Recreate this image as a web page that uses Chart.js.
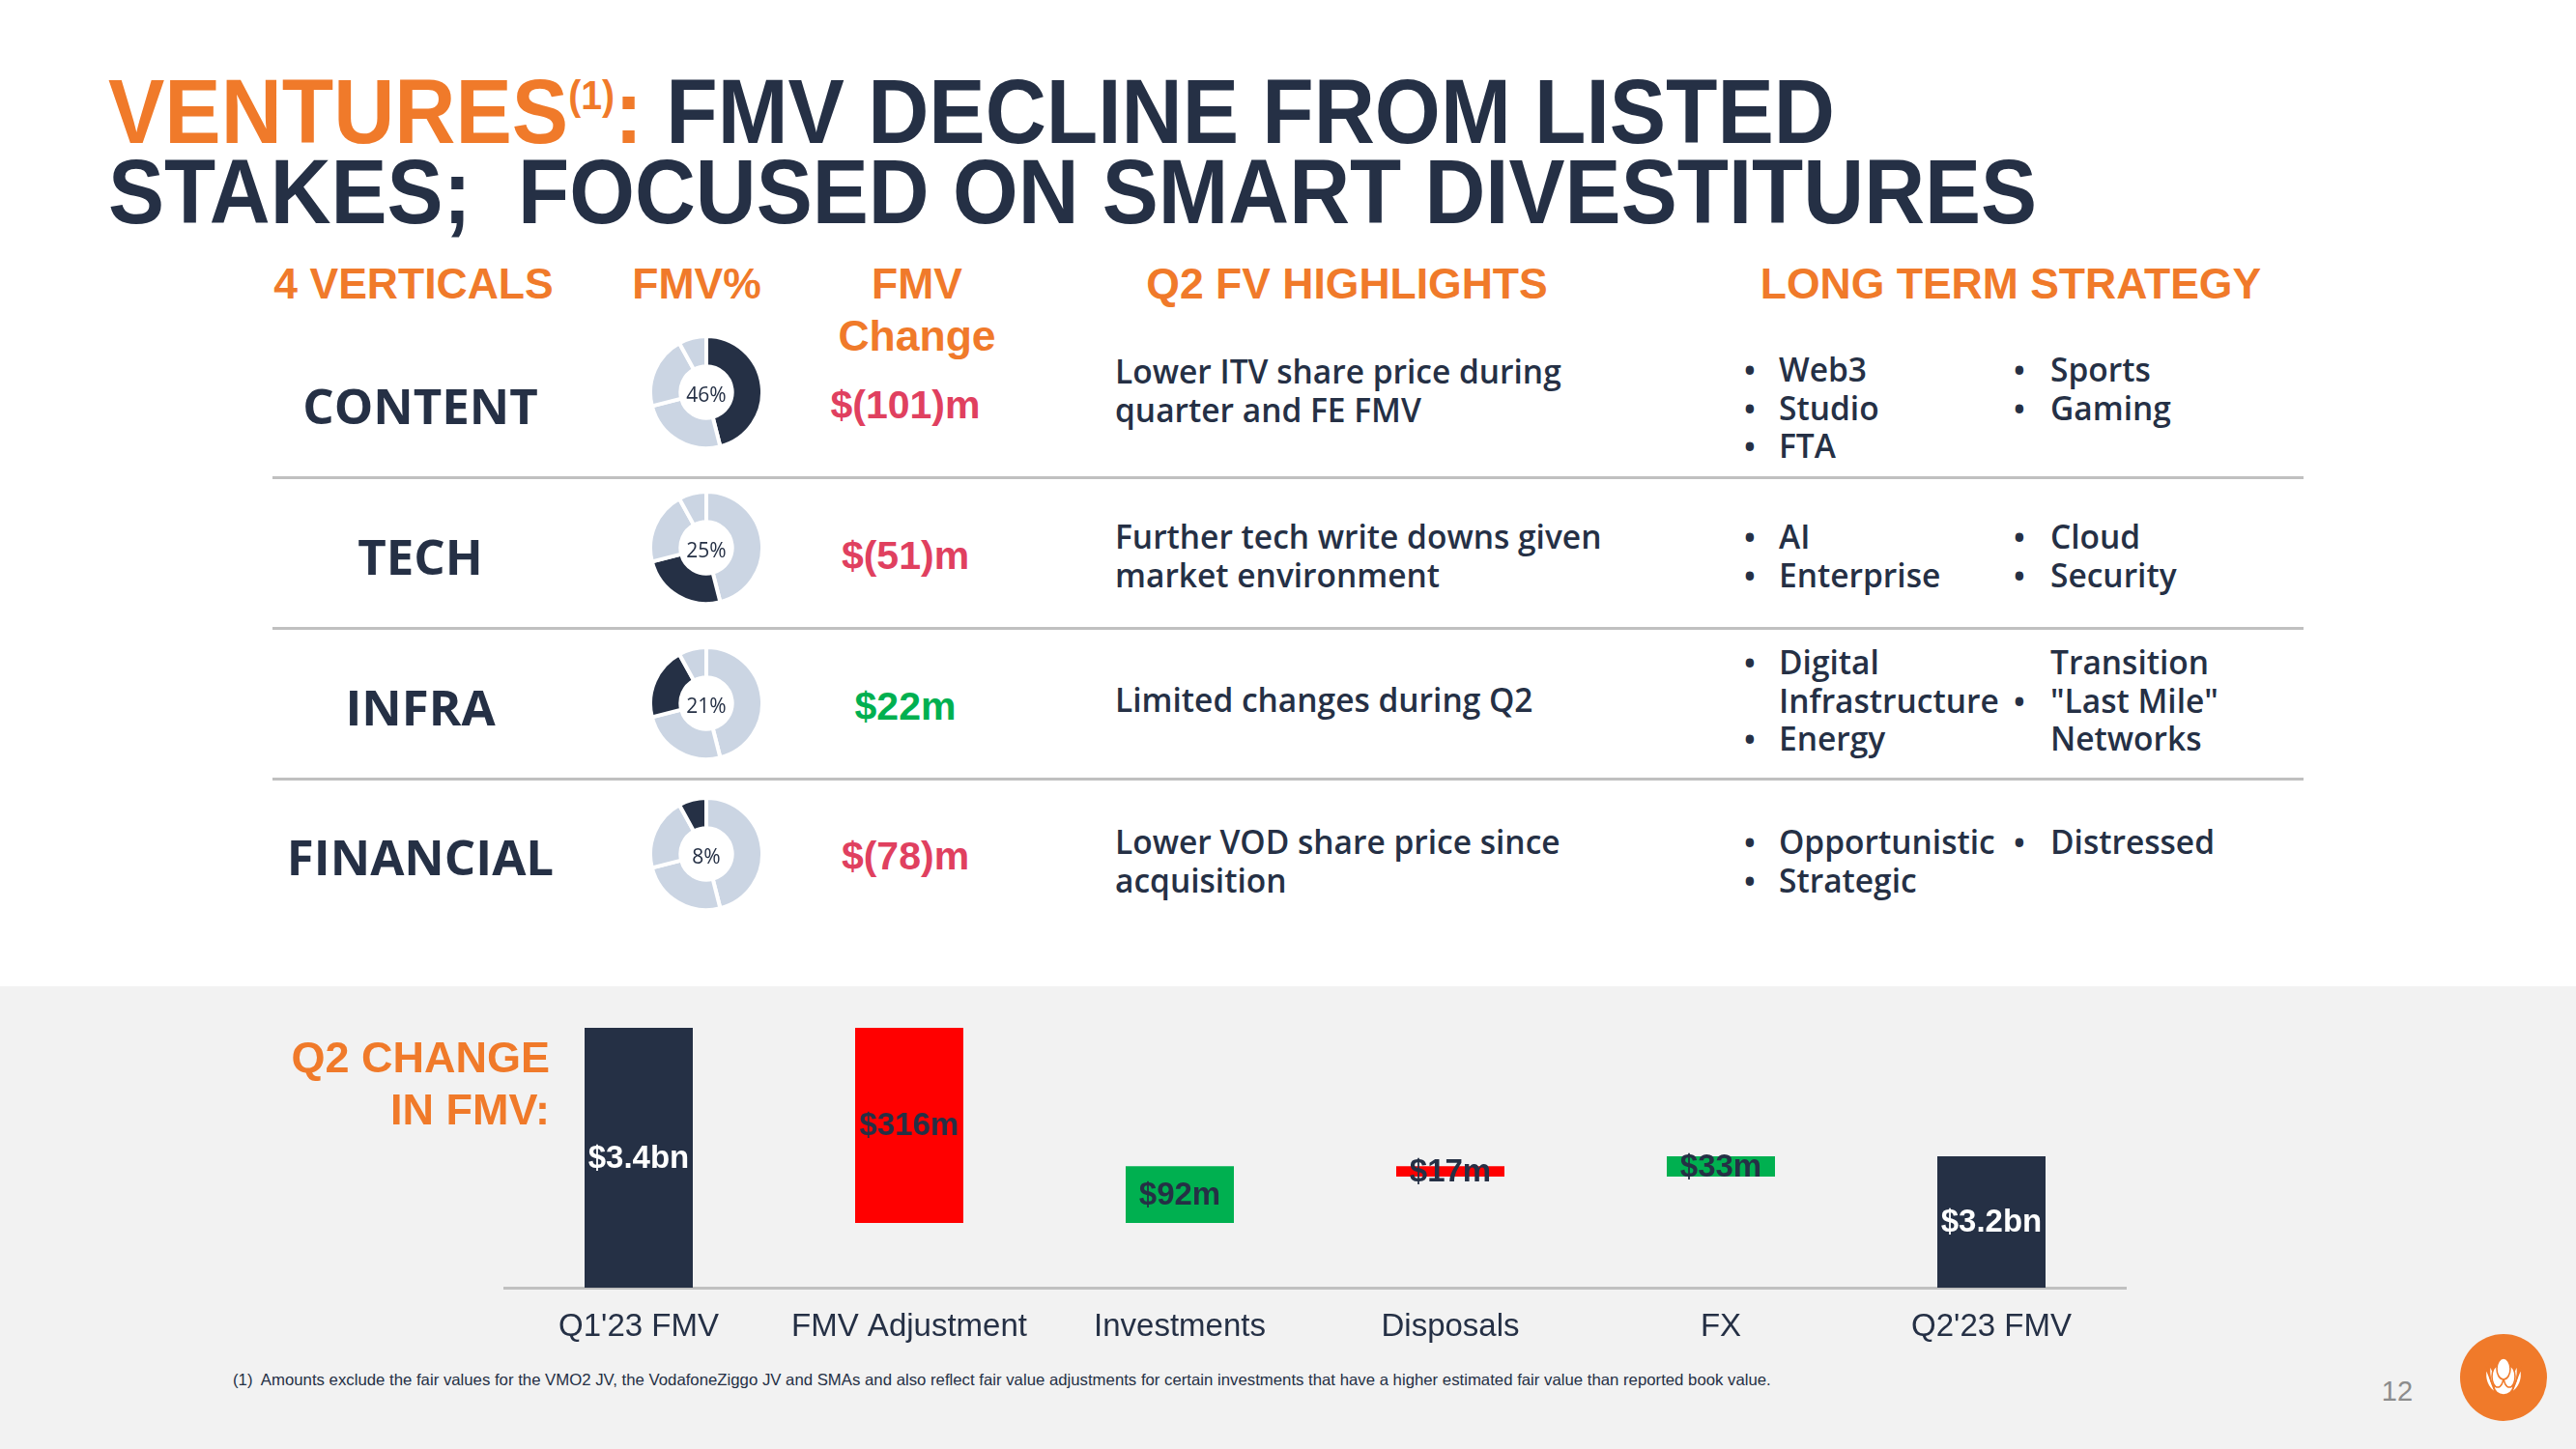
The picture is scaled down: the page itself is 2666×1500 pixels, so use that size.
<!DOCTYPE html>
<html lang="en">
<head>
<meta charset="UTF-8">
<title>Ventures FMV</title>
<script src="https://cdn.jsdelivr.net/npm/chart.js"></script>
<style>
  body {
    margin: 0;
    width: 2666px;
    height: 1500px;
    position: relative;
    overflow: hidden;
    background: #fff;
    font-family: "Liberation Sans", Arial, sans-serif;
    color: #253045;
  }
  .t { position: absolute; white-space: nowrap; line-height: 1; }
  #panel { position: absolute; left: 0; top: 1021px; width: 2666px; height: 479px; background: #f2f2f2; }
  .rule { position: absolute; left: 282px; width: 2102px; height: 3px; background: #c0c0c0; }
  #wfWrap { position: absolute; left: 521px; top: 1064px; }
  .donut { position: absolute; }
  #logo { position: absolute; left: 2546px; top: 1381px; width: 90px; height: 90px; }
</style>
</head>
<body>
<div id="panel"></div>
<div class="rule" style="top:493px"></div>
<div class="rule" style="top:649px"></div>
<div class="rule" style="top:805px"></div>

<div id="wfWrap"><canvas id="waterfall" width="1680" height="349"></canvas></div>

<svg id="logo" viewBox="0 0 90 90">
  <circle cx="45" cy="45" r="45" fill="#f07a2a"/>
  <!-- petal mark -->
  <g fill="#fff" stroke="#f07a2a" stroke-width="1.6">
    <path d="M27 36 C25 46 28 56 37 61 C33 53 31 44 27 36 Z"/>
    <path d="M63 36 C65 46 62 56 53 61 C57 53 59 44 63 36 Z"/>
    <path d="M31 32 C29 44 33 56 42 62 C38 52 36 42 31 32 Z"/>
    <path d="M59 32 C61 44 57 56 48 62 C52 52 54 42 59 32 Z"/>
    <ellipse cx="45" cy="54" rx="10" ry="9"/>
    <ellipse cx="39" cy="44" rx="6" ry="11"/>
    <ellipse cx="51" cy="44" rx="6" ry="11"/>
    <ellipse cx="45" cy="36" rx="7" ry="11"/>
  </g>
</svg>

<script>
// ---- data ----
const verticals = ['CONTENT', 'TECH', 'INFRA', 'FINANCIAL'];
const fmvShare = [46, 25, 21, 8];
const fmvChange = ['$(101)m', '$(51)m', '$22m', '$(78)m'];
const changeUp = [false, false, true, false];
const highlights = [
    ['Lower ITV share price during', 'quarter and FE FMV'],
    ['Further tech write downs given', 'market environment'],
    ['Limited changes during Q2'],
    ['Lower VOD share price since', 'acquisition']
];
// "• " marks a bulleted line
const strategyLeft = [
    ['• Web3', '• Studio', '• FTA'],
    ['• AI', '• Enterprise'],
    ['• Digital', 'Infrastructure', '• Energy'],
    ['• Opportunistic', '• Strategic']
];
const strategyRight = [
    ['• Sports', '• Gaming'],
    ['• Cloud', '• Security'],
    ['Transition', '• "Last Mile"', 'Networks'],
    ['• Distressed']
];

const stepLabels = ["Q1'23 FMV", 'FMV Adjustment', 'Investments', 'Disposals', 'FX', "Q2'23 FMV"];
const stepValues = [3400, -316, 92, -17, 33, 3192]; // $m, first and last are totals
const stepText = ['$3.4bn', '$316m', '$92m', '$17m', '$33m', '$3.2bn'];
const axisFloor = 2979; // value axis starts here, not at zero

const NAVY = '#253045';
const ORANGE = '#f07a2a';
const LIGHT = '#cbd5e3';
const ARIAL = '"Liberation Sans", Arial, sans-serif';
const OPEN = '"Open Sans", sans-serif';

// ---- text helper ----
const fits = [];
function put(html, x, y, size, opt = {}) {
    const d = document.createElement('div');
    d.className = 't';
    d.innerHTML = html;
    d.style.left = x + 'px';
    d.style.top = y + 'px';
    d.style.fontSize = size + 'px';
    d.style.fontFamily = opt.font || ARIAL;
    d.style.fontWeight = opt.weight || 'bold';
    d.style.color = opt.color || NAVY;
    if (opt.lh) d.style.lineHeight = opt.lh;
    const ax = opt.align === 'center' ? -50 : opt.align === 'right' ? -100 : 0;
    d.style.transformOrigin = (ax === 0 ? 'left' : ax === -50 ? 'center' : 'right') + ' center';
    d.style.transform = `translate(${ax}%, -50%)`;
    document.body.appendChild(d);
    if (opt.w) fits.push([d, opt.w, ax]);
    return d;
}

// title
put(`<span style="color:${ORANGE}">VENTURES<span style="font-size:42px;position:relative;top:-35px">(1)</span>:</span> FMV DECLINE FROM LISTED`, 112, 116, 94, { w: 1787, lh: 0.85 });
put('STAKES;&nbsp; FOCUSED ON SMART DIVESTITURES', 112, 199, 94, { w: 1996, lh: 0.85 });

// column headers
const hdr = { color: ORANGE, align: 'center' };
put('4 VERTICALS', 428, 294, 44.5, hdr);
put('FMV%', 721, 294, 44.5, hdr);
put('FMV', 949, 294, 44.5, hdr);
put('Change', 949, 348, 44.5, hdr);
put('Q2 FV HIGHLIGHTS', 1394, 294, 44.5, hdr);
put('LONG TERM STRATEGY', 2081, 294, 44.5, hdr);

// rows
const rowY = [419, 575, 731, 886];
const donutY = [406, 567, 728, 884];
const hlTop = [385, 556, 725, 872];
const stTop = [383, 556, 686, 872];
const lineGap = 39.5;
const body = { font: OPEN, weight: 600 };

function bulletLines(lines, bx, tx, top) {
    lines.forEach((s, k) => {
        const y = top + k * lineGap;
        let txt = s;
        if (s.startsWith('• ')) {
            put('•', bx, y, 30, { font: OPEN, weight: 700, align: 'center' });
            txt = s.slice(2);
        }
        put(txt, tx, y, 33.5, body);
    });
}

verticals.forEach((v, i) => {
    put(v, 435, rowY[i], 51, { font: OPEN, weight: 700, align: 'center' });
    put(fmvChange[i], 937, rowY[i], 41, { color: changeUp[i] ? '#00b050' : '#e0405f', align: 'center' });
    highlights[i].forEach((s, k) => put(s, 1154, hlTop[i] + k * lineGap, 33.5, body));
    bulletLines(strategyLeft[i], 1811, 1841, stTop[i]);
    bulletLines(strategyRight[i], 2090, 2122, stTop[i]);

    // FMV share donut, this vertical highlighted
    const c = document.createElement('canvas');
    c.width = 120; c.height = 120;
    c.className = 'donut';
    c.style.left = (731 - 60) + 'px';
    c.style.top = (donutY[i] - 60) + 'px';
    document.body.appendChild(c);
    new Chart(c, {
        type: 'doughnut',
        data: {
            labels: verticals,
            datasets: [{
                data: fmvShare,
                backgroundColor: fmvShare.map((_, j) => j === i ? NAVY : LIGHT),
                borderColor: '#ffffff',
                borderWidth: 4
            }]
        },
        options: {
            responsive: false,
            animation: false,
            events: [],
            cutout: '46%',
            plugins: { legend: { display: false }, tooltip: { enabled: false } }
        }
    });
    put(fmvShare[i] + '%', 731, donutY[i] + 2, 21, { font: OPEN, weight: 'normal', align: 'center' });
});

// bottom panel texts
put('Q2 CHANGE', 569, 1094, 45, { color: ORANGE, align: 'right' });
put('IN FMV:', 569, 1148, 45, { color: ORANGE, align: 'right' });
put('(1)&nbsp; Amounts exclude the fair values for the VMO2 JV, the VodafoneZiggo JV and SMAs and also reflect fair value adjustments for certain investments that have a higher estimated fair value than reported book value.',
    241, 1428, 16.5, { weight: 'normal', w: 1592 });
put('12', 2481, 1440, 29, { weight: 'normal', color: '#8c8c8c', align: 'center' });

// ---- waterfall ----
let level = 0;
const last = stepValues.length - 1;
const ranges = stepValues.map((v, i) => {
    if (i === 0 || i === last) { level = v; return [axisFloor, v]; }
    const from = level;
    level += v;
    return [Math.min(from, level), Math.max(from, level)];
});
const barColors = stepValues.map((v, i) => (i === 0 || i === last) ? NAVY : v < 0 ? '#ff0000' : '#00b050');

// values written in the middle of each bar
const barLabels = {
    id: 'barLabels',
    afterDatasetsDraw(chart) {
        const ctx = chart.ctx;
        const meta = chart.getDatasetMeta(0);
        ctx.save();
        ctx.font = 'bold 33px "Liberation Sans", Arial';
        ctx.textAlign = 'center';
        ctx.textBaseline = 'middle';
        meta.data.forEach((bar, i) => {
            const { x, y, base } = bar.getProps(['x', 'y', 'base'], true);
            ctx.fillStyle = (i === 0 || i === last) ? '#ffffff' : NAVY;
            ctx.fillText(stepText[i], x, (y + base) / 2 + 1);
        });
        ctx.restore();
    }
};

new Chart(document.getElementById('waterfall'), {
    type: 'bar',
    data: {
        labels: stepLabels,
        datasets: [{
            data: ranges,
            backgroundColor: barColors,
            borderWidth: 0,
            categoryPercentage: 1,
            barPercentage: 0.4
        }]
    },
    options: {
        responsive: false,
        animation: false,
        events: [],
        layout: { padding: 0 },
        plugins: { legend: { display: false }, tooltip: { enabled: false } },
        scales: {
            x: {
                grid: { display: false, drawTicks: false },
                border: { display: true, color: '#c0c0c0', width: 3 },
                ticks: { color: NAVY, font: { family: ARIAL, size: 33 }, padding: 21 },
                afterFit: s => { s.height = 80; }
            },
            y: { display: false, min: axisFloor, max: 3400 }
        }
    },
    plugins: [barLabels]
});

// squeeze wide text lines to the measured widths
document.fonts.ready.then(() => {
    fits.forEach(([d, w, ax]) => {
        const k = w / d.offsetWidth;
        d.style.transform = `translate(${ax}%, -50%) scaleX(${k})`;
    });
});
</script>
</body>
</html>
